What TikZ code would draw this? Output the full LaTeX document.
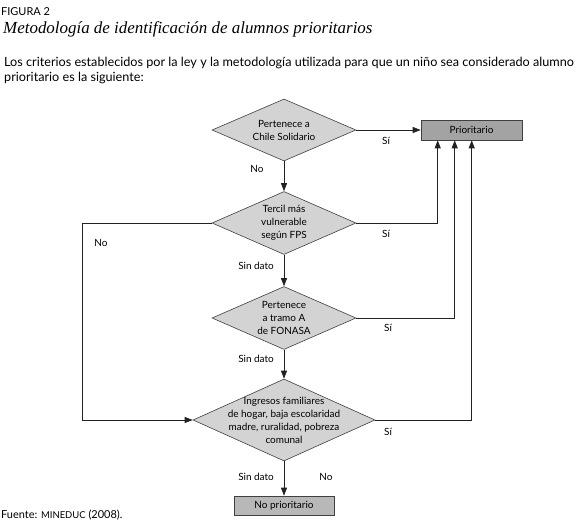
\documentclass[tikz,border=0pt]{standalone}
\usepackage{fontspec}
\setmainfont{Lato}
\newfontfamily\titlefont{Liberation Serif}
\usetikzlibrary{shapes.geometric,arrows.meta,calc}
\definecolor{dfill}{HTML}{D3D3D3}
\definecolor{pfill}{HTML}{A3A3A3}
\definecolor{nfill}{HTML}{B8B8B8}
\definecolor{edge}{HTML}{222222}
\begin{document}
\begin{tikzpicture}[x=1bp,y=-1bp,
  dec/.style={diamond,draw=black!75,fill=dfill,line width=0.6bp,inner sep=0pt},
  dtext/.style={inner sep=0pt,align=center,font=\fontsize{10}{13}\selectfont},
  res/.style={rectangle,draw=black!75,line width=0.6bp,inner sep=0pt,font=\fontsize{10}{12}\selectfont},
  arr/.style={draw=edge,line width=0.8bp,-{Triangle[length=8bp,width=6bp]}},
  ln/.style={draw=edge,line width=0.8bp},
  lab/.style={font=\fontsize{10}{12}\selectfont,inner sep=0pt}]
\useasboundingbox (0,0) rectangle (579,522);
% header
\node[anchor=base west,inner sep=0pt,font=\fontsize{11}{13}\selectfont] (fig) at (1,16) {FIGURA 2};
\node[anchor=base west,inner sep=0pt,font=\titlefont\itshape\fontsize{17}{20}\selectfont] (title) at (3,34) {Metodología de identificación de alumnos prioritarios};
\node[anchor=base west,inner sep=0pt,font=\fontsize{12.7}{16}\selectfont,align=left] (intro) at (4,82)
  {Los criterios establecidos por la ley y la metodología utilizada para que un niño sea considerado alumno\\prioritario es la siguiente:};
% decision nodes
\node[dec,minimum width=144bp,minimum height=62bp] (d1) at (284,130) {};
\node[dec,minimum width=144bp,minimum height=63bp] (d2) at (284,223) {};
\node[dec,minimum width=144bp,minimum height=63bp] (d3) at (284,318) {};
\node[dec,minimum width=182bp,minimum height=82bp] (d4) at (284,420) {};
\node[dtext] (t1) at (d1) {Pertenece a\\Chile Solidario};
\node[dtext] (t2) at (d2) {Tercil más\\vulnerable\\según FPS};
\node[dtext] (t3) at (d3) {Pertenece\\a tramo A\\de FONASA};
\node[dtext] (t4) at (d4) {Ingresos familiares\\de hogar, baja escolaridad\\madre, ruralidad, pobreza\\comunal};
% result nodes
\node[res,fill=pfill,minimum width=101bp,minimum height=20bp] (prio) at (471.5,130) {Prioritario};
\node[res,fill=nfill,minimum width=100bp,minimum height=19bp] (noprio) at (284,505.5) {No prioritario};
\coordinate (c2) at ($(prio.south west)+(17,0)$);
\coordinate (c3) at ($(prio.south west)+(34,0)$);
\coordinate (c4) at ($(prio.south west)+(51,0)$);
\coordinate (k) at (82,223);
% connectors
\draw[arr] (d1.east) -- (prio.west);
\draw[arr] (d1.south) -- (d2.north);
\draw[arr] (d2.east) -| (c2);
\draw[arr] (d2.south) -- (d3.north);
\draw[arr] (d3.east) -| (c3);
\draw[arr] (d3.south) -- (d4.north);
\draw[arr] (d4.east) -| (c4);
\draw[arr] (d4.south) -- (noprio.north);
\draw[ln] (d2.west) -- (k);
\draw[arr] (k) |- (d4.west);
% labels
\node[lab] (s1) at (386,141) {Sí};
\node[lab] (n1) at (257,169) {No};
\node[lab] (s2) at (386,234) {Sí};
\node[lab] (n2) at (101,243) {No};
\node[lab,anchor=east] (sd1) at (274,266) {Sin dato};
\node[lab] (s3) at (388,328) {Sí};
\node[lab,anchor=east] (sd2) at (274,359) {Sin dato};
\node[lab] (s4) at (388,432) {Sí};
\node[lab,anchor=east] (sd3) at (274,477) {Sin dato};
\node[lab] (n3) at (326,477) {No};
% source
\node[anchor=base west,inner sep=0pt,font=\fontsize{11}{13}\selectfont] (src) at (1,518) {Fuente: {\fontsize{9.5}{11}\selectfont MINEDUC} (2008).};
\end{tikzpicture}
\end{document}
